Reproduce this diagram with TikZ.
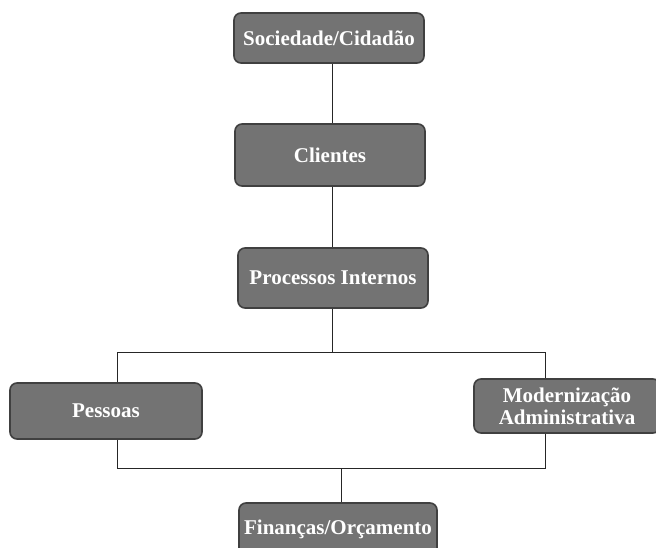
\documentclass[tikz,border=0pt]{standalone}
\usepackage{fontspec}
\setmainfont{Liberation Serif}
\begin{document}
\begin{tikzpicture}[x=1pt,y=-1pt,
  box/.style={draw=black!75, line width=1.6pt, fill=black!55, rounded corners=7pt,
    text=white, font=\bfseries\fontsize{21}{22}\selectfont, align=center,
    inner sep=0pt, minimum width=190pt, minimum height=54pt},
  link/.style={draw=black!85, line width=0.8pt}]
  \useasboundingbox (0,0) rectangle (656,547);
  % perspective boxes
  \node[box, minimum height=50pt] (soc) at (329,38) {Sociedade/Cidadão};
  \node[box, minimum height=62pt] (cli) at (330,155) {Clientes};
  \node[box, minimum height=60pt] (proc) at (333,278) {Processos Internos};
  \node[box, minimum width=192pt, minimum height=56pt] (pes) at (106,411) {Pessoas};
  \node[box, minimum width=186pt, minimum height=54pt] (mod) at (567,406) {Modernização\\Administrativa};
  \node[box, minimum width=198pt, minimum height=52pt] (fin) at (338,529) {Finanças/Orçamento};
  % branch points
  \coordinate (tl) at (117,352);
  \coordinate (tr) at (545,352);
  \coordinate (bl) at (117,468);
  \coordinate (br) at (545,468);
  \coordinate (bm) at (341,468);
  % connectors
  \draw[link] (soc.south -| 332,0) -- (cli.north -| 332,0);
  \draw[link] (cli.south -| 332,0) -- (proc.north -| 332,0);
  \draw[link] (proc.south -| 332,0) -- (332,352);
  \draw[link] (pes.north -| tl) -- (tl) -- (tr) -- (mod.north -| tr);
  \draw[link] (pes.south -| bl) -- (bl) -- (br) -- (mod.south -| br);
  \draw[link] (bm) -- (fin.north -| bm);
\end{tikzpicture}
\end{document}
